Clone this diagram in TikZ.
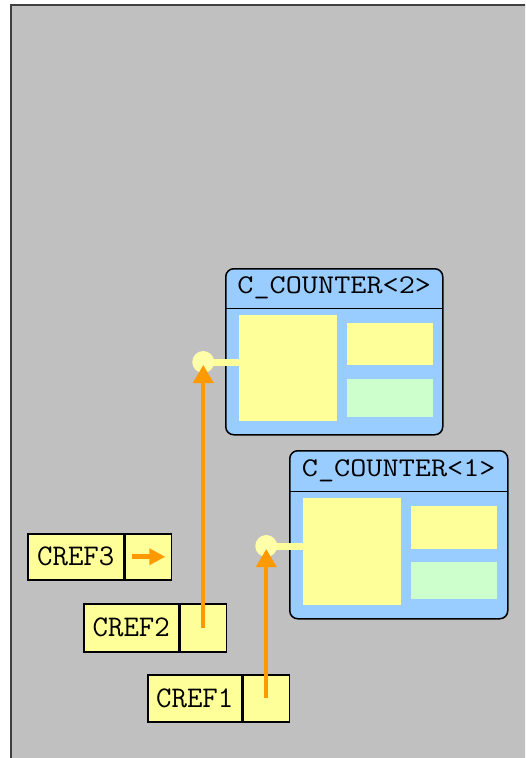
\documentclass[tikz,border=0pt]{standalone}
\usepackage{fontspec}
\usepackage{graphicx}
\usetikzlibrary{arrows.meta}
\definecolor{bggray}{HTML}{C0C0C0}
\definecolor{framegray}{HTML}{404040}
\definecolor{clsblue}{HTML}{99CCFF}
\definecolor{fldyellow}{HTML}{FFFF99}
\definecolor{fldgreen}{HTML}{CCFFCC}
\definecolor{dotyellow}{HTML}{FFFFAA}
\definecolor{reforange}{HTML}{FF9900}
\tikzset{
  classbox/.style={draw=black, line width=1.5pt, fill=clsblue, rounded corners=8pt, inner sep=0pt, anchor=north west},
  titlebox/.style={inner sep=0pt, minimum height=40pt, anchor=north, font=\fontsize{27}{27}\selectfont\ttfamily},
  fieldbox/.style={fill=fldyellow, inner sep=0pt, anchor=north west},
  greenbox/.style={fill=fldgreen, inner sep=0pt, anchor=north west},
  crefcell/.style={draw=black, line width=1.5pt, fill=fldyellow, inner sep=0pt, font=\fontsize{30}{30}\selectfont\ttfamily},
  dotnode/.style={circle, fill=dotyellow, inner sep=0pt, minimum size=22pt},
  connline/.style={draw=fldyellow, line width=7pt},
  refarrow/.style={draw=reforange, line width=4pt, -{Triangle[width=20pt,length=18pt]}},
  refsmall/.style={draw=reforange, line width=5pt, -{Triangle[width=16pt,length=16pt]}},
}
\begin{document}
\begin{tikzpicture}[x=1pt,y=-1pt]
\useasboundingbox (0,0) rectangle (525,758);
\clip (0,0) rectangle (525,758);
\fill[white] (0,0) rectangle (525,758);
\draw[draw=framegray, line width=2pt, fill=bggray] (11,5) rectangle (545,775);

% C_COUNTER<2>
\node[classbox, minimum width=217pt, minimum height=166pt] (cc2) at (225,268) {};
\node[titlebox, minimum width=217pt] (t2) at (cc2.north) {\scalebox{1.16}[1]{C\_COUNTER<2>}};
\draw[line width=1.5pt] (t2.south west) -- (t2.south east);
\node[fieldbox, minimum width=98pt, minimum height=106pt] (f2a) at (239,315) {};
\node[fieldbox, minimum width=86pt, minimum height=42pt] (f2b) at (347,323) {};
\node[greenbox, minimum width=86pt, minimum height=38pt] (f2c) at (347,379) {};

% C_COUNTER<1>
\node[classbox, minimum width=218pt, minimum height=168pt] (cc1) at (289,450) {};
\node[titlebox, minimum width=218pt, minimum height=41pt] (t1) at (cc1.north) {\scalebox{1.16}[1]{C\_COUNTER<1>}};
\draw[line width=1.5pt] (t1.south west) -- (t1.south east);
\node[fieldbox, minimum width=98pt, minimum height=107pt] (f1a) at (303,498) {};
\node[fieldbox, minimum width=86pt, minimum height=43pt] (f1b) at (411,506) {};
\node[greenbox, minimum width=86pt, minimum height=37pt] (f1c) at (411,562) {};

% CREF boxes
\node[crefcell, minimum width=96pt, minimum height=46pt, anchor=north west] (c3t) at (27,533) {CREF3};
\node[crefcell, minimum width=46pt, minimum height=46pt, anchor=west] (c3p) at (c3t.east) {};
\node[crefcell, minimum width=95pt, minimum height=48pt, anchor=north west] (c2t) at (83,603) {CREF2};
\node[crefcell, minimum width=46pt, minimum height=48pt, anchor=west] (c2p) at (c2t.east) {};
\node[crefcell, minimum width=94pt, minimum height=47pt, anchor=north west] (c1t) at (147,674) {CREF1};
\node[crefcell, minimum width=46pt, minimum height=47pt, anchor=west] (c1p) at (c1t.east) {};

% connectors to the dots
\coordinate (k2) at (c2p.center |- 0,362);
\draw[connline] (k2) -- (k2 -| f2a.west);
\node[dotnode] (d2) at (k2) {};
\coordinate (k1) at (c1p.center |- 0,546);
\draw[connline] (k1) -- (k1 -| f1a.west);
\node[dotnode] (d1) at (k1) {};

% references
\draw[refsmall] ([xshift=-16pt]c3p.center) -- ([xshift=17pt]c3p.center);
\draw[refarrow] (c2p.center) -- ([yshift=-3pt]d2.center);
\draw[refarrow] (c1p.center) -- ([yshift=-3pt]d1.center);
\end{tikzpicture}
\end{document}
